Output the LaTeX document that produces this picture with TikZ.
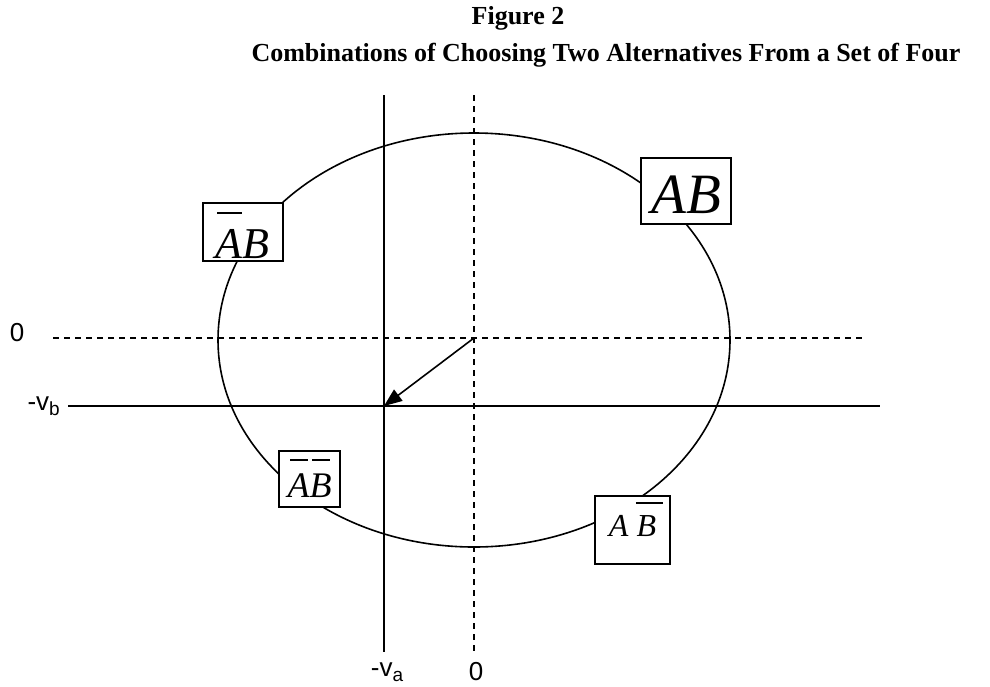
\documentclass[tikz,border=0pt]{standalone}
\usepackage{fontspec}
\setmainfont{Liberation Serif}
\newfontfamily\axisfont{Liberation Sans}
\usetikzlibrary{arrows.meta}
% \obar[extra width]{left shift}{letter}
\newcommand\obar[3][-0.12em]{\setbox0\hbox{#3}\rlap{\hspace{#2}\raisebox{1.0em}{\rule{\dimexpr\wd0+#1\relax}{1.6pt}}}\box0}
\tikzset{
  x=1pt, y=-1pt,
  axis/.style={line width=1.6pt},
  dashaxis/.style={line width=1.6pt, dash pattern=on 6pt off 5pt},
  lbox/.style={draw, fill=white, line width=1.6pt, inner sep=0pt},
  ltext/.style={inner sep=0pt, anchor=base},
  axlabel/.style={font=\axisfont\fontsize{26}{30}\selectfont, inner sep=0pt},
}
\begin{document}
\begin{tikzpicture}
\useasboundingbox (0,0) rectangle (990,686);
% titles
\node[font=\bfseries\fontsize{26}{30}\selectfont, inner sep=0pt] (t1) at (518,18) {Figure 2};
\node[font=\bfseries\fontsize{26}{30}\selectfont, inner sep=0pt] (t2) at (606,55) {Combinations of Choosing Two Alternatives From a Set of Four};
% axes
\coordinate (h0l) at (53,338); \coordinate (h0r) at (862,338);
\coordinate (hbl) at (68,406); \coordinate (hbr) at (880,406);
\coordinate (vat) at (384,95); \coordinate (vab) at (384,652);
\coordinate (v0t) at (474,95); \coordinate (v0b) at (474,652);
\coordinate (c) at (474,338);
\coordinate (p) at (384,406);
\draw[dashaxis] (h0l) -- (h0r);
\draw[axis] (hbl) -- (hbr);
\draw[axis] (vat) -- (vab);
\draw[dashaxis] (v0t) -- (v0b);
% ellipse
\draw[line width=1.6pt] (474,340) ellipse [x radius=256, y radius=207];
% arrow
\draw[line width=1.6pt, -{Triangle[length=18pt,width=14pt]}] (c) -- (p);
% labels
\node[axlabel] (l0) at (17,333) {0};
\node[axlabel, anchor=east] (lvb) at (60,406) {-v\raisebox{-0.2em}{\fontsize{19}{22}\selectfont b}};
\node[axlabel] (lva) at (387,672) {-v\raisebox{-0.2em}{\fontsize{19}{22}\selectfont a}};
\node[axlabel] (l0b) at (476,672) {0};
% boxes
\node[lbox, minimum width=90pt, minimum height=66pt] (ab) at (686,191) {};
\node[ltext, font=\itshape\fontsize{57}{60}\selectfont] (abt) at (686,213) {AB};
\node[lbox, minimum width=80pt, minimum height=58pt] (nab) at (243,232) {};
\node[ltext, font=\itshape\fontsize{44}{48}\selectfont] (nabt) at (242,258) {\obar[-0.05em]{0.05em}{A}B};
\node[lbox, minimum width=61pt, minimum height=56pt] (nanb) at (309.5,479) {};
\node[ltext, font=\itshape\fontsize{36}{40}\selectfont] (nanbt) at (309.5,497) {\obar{0.07em}{A}\obar{0.07em}{B}};
\node[lbox, minimum width=75pt, minimum height=68pt] (anb) at (632.5,530) {};
\node[ltext, font=\itshape\fontsize{32}{35}\selectfont] (anbt) at (632.5,536) {A \obar[0.25em]{-0.02em}{B}};
\end{tikzpicture}
\end{document}
